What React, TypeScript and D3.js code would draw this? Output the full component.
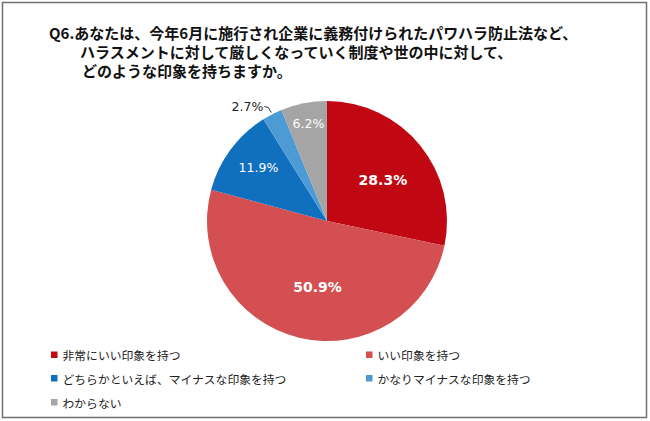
import React from "react";
import * as d3 from "d3";

const categories = [
  "非常にいい印象を持つ",
  "いい印象を持つ",
  "どちらかといえば、マイナスな印象を持つ",
  "かなりマイナスな印象を持つ",
  "わからない",
];
const values = [28.3, 50.9, 11.9, 2.7, 6.2];
const colors = ["#C00712", "#D44F52", "#1170BE", "#4C9BD5", "#A5A5A5"];
const titleLines = [
  "Q6.あなたは、今年6月に施行され企業に義務付けられたパワハラ防止法など、",
  "ハラスメントに対して厳しくなっていく制度や世の中に対して、",
  "どのような印象を持ちますか。",
];

const W = 650;
const H = 421;
const cx = 327;
const cy = 221;
const R = 120;

export default function App() {
  const pie = d3.pie<number>().sort(null).value((d) => d)(values);
  const arc = d3.arc<d3.PieArcDatum<number>>().innerRadius(0).outerRadius(R);
  const jp = "'Noto Sans CJK JP', 'Noto Sans', sans-serif";
  const num = "'DejaVu Sans', Verdana, sans-serif";

  const labelCfg = [
    { r: 0.6, dx: 0, dy: 4, size: 14, bold: true, fill: "#fff" },
    { r: 0.55, dx: 6, dy: 2, size: 14, bold: true, fill: "#fff" },
    { r: 0.68, dx: -3, dy: -5, size: 12.5, bold: false, fill: "#fff" },
    null,
    { r: 0.8, dx: 0, dy: -3, size: 12.5, bold: false, fill: "#fff" },
  ];

  const smallSlice = pie[3];
  const midA = (smallSlice.startAngle + smallSlice.endAngle) / 2;
  const px = (a: number, r: number) => cx + r * Math.sin(a);
  const py = (a: number, r: number) => cy - r * Math.cos(a);

  const legendX = [51, 366];
  const legendY = [354.5, 378, 402];

  return (
    <svg width={W} height={H} style={{ display: "block", position: "absolute", left: 0, top: 0 }}>
      <rect x={0} y={0} width={W} height={H} fill="#fff" />
      <rect x={2.5} y={2.5} width={644} height={415} fill="none" stroke="#6f6f6f" strokeWidth={1.5} />
      {titleLines.map((t, i) => (
        <text
          key={i}
          x={i === 0 ? 49 : 80 + (i === 2 ? 2 : 0)}
          y={39 + i * 19}
          fontFamily={jp}
          fontWeight="bold"
          fontSize={15}
          fill="#111"
        >
          {t}
        </text>
      ))}
      <g>
        {pie.map((p, i) => (
          <path key={i} d={arc(p) || ""} transform={`translate(${cx},${cy})`} fill={colors[i]} />
        ))}
      </g>
      {pie.map((p, i) => {
        const c = labelCfg[i];
        if (!c) return null;
        const a = (p.startAngle + p.endAngle) / 2;
        return (
          <text
            key={i}
            x={px(a, R * c.r) + c.dx}
            y={py(a, R * c.r) + c.dy}
            textAnchor="middle"
            dominantBaseline="central"
            fontFamily={num}
            fontWeight={c.bold ? "bold" : "normal"}
            fontSize={c.size}
            fill={c.fill}
          >
            {values[i].toFixed(1)}%
          </text>
        );
      })}
      <path
        d={`M${px(midA, R + 2)},${py(midA, R + 2)} L${px(midA, R + 2) - 3},${py(midA, R + 2) - 5} L${px(midA, R + 2) - 7},${py(midA, R + 2) - 6}`}
        fill="none"
        stroke="#333"
        strokeWidth={1}
      />
      <text
        x={px(midA, R + 2) - 8}
        y={py(midA, R + 2) - 6}
        textAnchor="end"
        dominantBaseline="central"
        fontFamily={num}
        fontSize={12.5}
        fill="#222"
      >
        {values[3].toFixed(1)}%
      </text>
      {categories.map((c, i) => {
        const x = legendX[i % 2];
        const y = legendY[Math.floor(i / 2)];
        return (
          <g key={i}>
            <rect x={x} y={y - 3} width={6.5} height={6.5} fill={colors[i]} />
            <text x={x + 11.5} y={y} dominantBaseline="central" fontFamily={jp} fontSize={11.8} fill="#222">
              {c}
            </text>
          </g>
        );
      })}
    </svg>
  );
}
